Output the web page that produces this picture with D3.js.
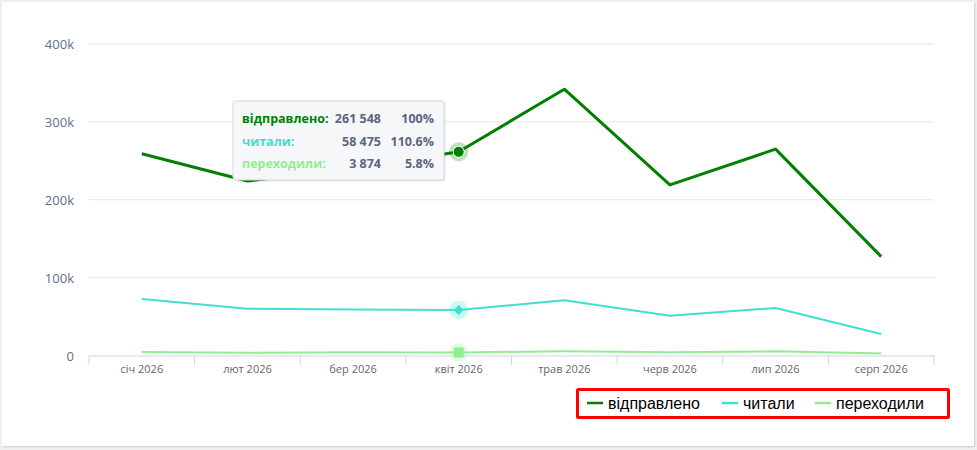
<!DOCTYPE html>
<html>
<head>
<meta charset="utf-8">
<script src="https://cdn.jsdelivr.net/npm/d3@7"></script>
<style>
  html, body { margin: 0; padding: 0; background: #f0f0f0; }
  #card { position: absolute; left: 2px; top: 2px; width: 972px; height: 444px; background: #fff; box-shadow: 1px 1px 2px #ccc; }
  svg { position: absolute; left: 0; top: 0; }
</style>
</head>
<body>
<div id="card"></div>
<svg id="chart" width="977" height="450"></svg>
<script>
// data
const months = ["січ 2026", "лют 2026", "бер 2026", "квіт 2026", "трав 2026", "черв 2026", "лип 2026", "серп 2026"];
const sent = [259000, 224000, 240000, 261548, 342000, 219000, 265000, 127000];
const read = [72600, 60000, 59200, 58475, 71000, 51000, 61000, 27500];
const clicked = [4500, 3600, 4200, 3874, 5500, 4300, 5400, 2500];
const yTicks = [0, 100000, 200000, 300000, 400000];
const seriesNames = ["відправлено", "читали", "переходили"];
const seriesColors = ["#008000", "#40e0d0", "#90ee90"];
const hoverIndex = 3;
const tipValues = ["261 548", "58 475", "3 874"];
const tipPercents = ["100%", "110.6%", "5.8%"];

const svg = d3.select("#chart");
const font = "'Open Sans', 'Noto Sans', sans-serif";

const x = d3.scaleBand().domain(months).range([89, 934]);
const y = d3.scaleLinear().domain([0, 400000]).range([355.5, 44]);

// grid
svg.append("g").selectAll("line")
    .data(yTicks.slice(1))
    .join("line")
    .attr("x1", 89).attr("x2", 934)
    .attr("y1", d => y(d)).attr("y2", d => y(d))
    .attr("stroke", "#e6e6e6").attr("stroke-width", 1);

// y labels
svg.append("g").selectAll("text")
    .data(yTicks)
    .join("text")
    .attr("x", 74).attr("y", d => y(d) + 5)
    .attr("text-anchor", "end")
    .attr("font-family", font).attr("font-size", 13)
    .attr("fill", "#606e8c")
    .text(d => d === 0 ? "0" : (d / 1000) + "k");

// x axis
const xAxis = svg.append("g")
    .attr("transform", "translate(0,355.5)")
    .call(d3.axisBottom(x).tickSize(0).tickPadding(10));
xAxis.select(".domain").attr("stroke", "#ccd6eb");
xAxis.selectAll("text")
    .attr("font-family", font).attr("font-size", 11).attr("fill", "#666");
svg.append("g").selectAll("line")
    .data(months.map(m => x(m)).concat([934]))
    .join("line")
    .attr("x1", d => d).attr("x2", d => d)
    .attr("y1", 355.5).attr("y2", 365)
    .attr("stroke", "#ccd6eb");

const cx = m => x(m) + x.bandwidth() / 2;
const line = d3.line().x((d, i) => cx(months[i])).y(d => y(d));

const allSeries = [sent, read, clicked];
const widths = [3, 2, 2];
allSeries.forEach((s, k) => {
    svg.append("path")
        .datum(s)
        .attr("fill", "none")
        .attr("stroke", seriesColors[k])
        .attr("stroke-width", widths[k])
        .attr("stroke-linejoin", "round")
        .attr("d", line);
});

// hover markers
const hx = cx(months[hoverIndex]);
allSeries.forEach((s, k) => {
    const hy = y(s[hoverIndex]);
    svg.append("circle").attr("cx", hx).attr("cy", hy).attr("r", 9.5)
        .attr("fill", seriesColors[k]).attr("opacity", 0.25);
    const sym = [d3.symbolCircle, d3.symbolSquare, d3.symbolSquare][k];
    const size = [95, 50, 100][k];
    svg.append("path")
        .attr("d", d3.symbol().type(sym).size(size))
        .attr("transform", `translate(${hx},${hy})` + (k === 1 ? " rotate(45)" : ""))
        .attr("fill", seriesColors[k])
        .attr("stroke", k === 0 ? "#fff" : "none")
        .attr("stroke-width", 1);
});

// tooltip
const tip = svg.append("g").attr("transform", "translate(233,101)");
tip.append("rect")
    .attr("x", 1.5).attr("y", 1.5).attr("width", 211).attr("height", 79).attr("rx", 3)
    .attr("fill", "#000").attr("opacity", 0.08);
tip.append("rect")
    .attr("width", 211).attr("height", 79).attr("rx", 3)
    .attr("fill", "#f6f7f9").attr("stroke", "#d8d8d8");
seriesNames.forEach((n, k) => {
    const ty = 22 + k * 22.5;
    tip.append("text").attr("x", 9).attr("y", ty)
        .attr("font-family", font).attr("font-size", 12.5).attr("font-weight", "bold")
        .attr("fill", seriesColors[k]).text(n + ":");
    tip.append("text").attr("x", 148).attr("y", ty).attr("text-anchor", "end")
        .attr("font-family", font).attr("font-size", 12.5).attr("font-weight", "bold")
        .attr("fill", "#5c6480").text(tipValues[k]);
    tip.append("text").attr("x", 201).attr("y", ty).attr("text-anchor", "end")
        .attr("font-family", font).attr("font-size", 12.5).attr("font-weight", "bold")
        .attr("fill", "#5c6480").text(tipPercents[k]);
});

// legend
const lg = svg.append("g");
lg.append("rect")
    .attr("x", 577.5).attr("y", 389.5).attr("width", 371).attr("height", 28)
    .attr("fill", "none").attr("stroke", "#ff0000").attr("stroke-width", 3).attr("rx", 1);
const legendX = [587, 722, 815];
seriesNames.forEach((n, k) => {
    lg.append("line")
        .attr("x1", legendX[k]).attr("x2", legendX[k] + 16)
        .attr("y1", 403).attr("y2", 403)
        .attr("stroke", seriesColors[k]).attr("stroke-width", 2.5);
    lg.append("text")
        .attr("x", legendX[k] + 21).attr("y", 408.5)
        .attr("font-family", "'Liberation Sans', Arial, sans-serif").attr("font-size", 16)
        .attr("fill", "#000").text(n);
});
</script>
</body>
</html>
